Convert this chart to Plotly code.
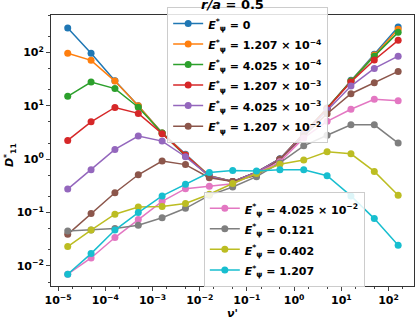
import plotly.graph_objects as go

nu = [1.6e-5, 5e-5, 1.6e-4, 5e-4, 1.6e-3, 5e-3, 1.6e-2, 5e-2, 0.16, 0.5, 1.6, 5, 16, 50, 160]

d_e0 = [286, 96, 29.4, 10, 3.1, 1.23, 0.49, 0.38, 0.57, 1.02, 3.0, 9.1, 30, 92, 300]
d_e1207m4 = [96, 71, 29, 10, 3.1, 1.2, 0.49, 0.38, 0.57, 1.0, 3.0, 9.0, 29, 89, 270]
d_e4025m4 = [15, 27.8, 21, 9.4, 3.1, 1.15, 0.48, 0.38, 0.57, 1.0, 3.0, 9.0, 29, 85, 237]
d_e1207m3 = [2.24, 5.0, 9.3, 7.2, 3.0, 1.18, 0.47, 0.38, 0.57, 1.0, 2.95, 8.9, 28, 72, 168]
d_e4025m3 = [0.275, 0.63, 1.52, 2.7, 2.18, 1.11, 0.48, 0.38, 0.57, 1.0, 2.9, 8.3, 23.4, 50, 85]
d_e1207m2 = [0.039, 0.096, 0.235, 0.51, 0.92, 0.79, 0.45, 0.38, 0.50, 1.0, 2.7, 7.1, 16.8, 27, 44]
d_e4025m2 = [0.007, 0.0141, 0.034, 0.074, 0.162, 0.28, 0.31, 0.345, 0.54, 0.89, 2.5, 5.1, 8.6, 13.2, 12.4]
d_e0121 = [0.045, 0.047, 0.050, 0.058, 0.080, 0.12, 0.21, 0.30, 0.47, 0.85, 1.78, 2.8, 4.4, 4.4, 2.0]
d_e0402 = [0.023, 0.047, 0.093, 0.127, 0.13, 0.148, 0.22, 0.35, 0.54, 0.80, 0.96, 1.38, 1.26, 0.59, 0.21]
d_e1207 = [0.007, 0.017, 0.047, 0.10, 0.205, 0.34, 0.56, 0.61, 0.60, 0.63, 0.63, 0.49, 0.205, 0.077, 0.0245]

x_tickvals = [1e-5, 1e-4, 1e-3, 1e-2, 1e-1, 1, 10, 100]
x_ticktext = ["10<sup>−5</sup>", "10<sup>−4</sup>", "10<sup>−3</sup>", "10<sup>−2</sup>",
              "10<sup>−1</sup>", "10<sup>0</sup>", "10<sup>1</sup>", "10<sup>2</sup>"]
y_tickvals = [1e-2, 1e-1, 1, 10, 100]
y_ticktext = ["10<sup>−2</sup>", "10<sup>−1</sup>", "10<sup>0</sup>", "10<sup>1</sup>", "10<sup>2</sup>"]

E = "<i>E</i><sup>*</sup><sub>ψ</sub>"
labels = [
    f"{E} = 0",
    f"{E} = 1.207 × 10<sup>−4</sup>",
    f"{E} = 4.025 × 10<sup>−4</sup>",
    f"{E} = 1.207 × 10<sup>−3</sup>",
    f"{E} = 4.025 × 10<sup>−3</sup>",
    f"{E} = 1.207 × 10<sup>−2</sup>",
    f"{E} = 4.025 × 10<sup>−2</sup>",
    f"{E} = 0.121",
    f"{E} = 0.402",
    f"{E} = 1.207",
]
series = [d_e0, d_e1207m4, d_e4025m4, d_e1207m3, d_e4025m3, d_e1207m2,
          d_e4025m2, d_e0121, d_e0402, d_e1207]
colors = ["#1f77b4", "#ff7f0e", "#2ca02c", "#d62728", "#9467bd", "#8c564b",
          "#e377c2", "#7f7f7f", "#bcbd22", "#17becf"]

fig = go.Figure()
for i, (lab, ys, c) in enumerate(zip(labels, series, colors)):
    fig.add_trace(go.Scatter(
        x=nu, y=ys, mode="lines+markers",
        name=f'<span style="font-size:11px">{lab}</span>',
        line=dict(color=c, width=1.5),
        marker=dict(color=c, size=7),
        legend="legend" if i < 6 else "legend2",
    ))

font = dict(family="DejaVu Sans", size=11, color="black", weight="bold")
legstyle = dict(bgcolor="rgba(255,255,255,0.85)", bordercolor="#cccccc", borderwidth=1,
                font=dict(family="DejaVu Sans", size=13.5, color="black", weight="bold"),
                xanchor="left", yanchor="top", itemwidth=30, tracegroupgap=0)

axstyle = dict(type="log", showgrid=False, zeroline=False, showline=True, mirror=True,
               linecolor="#333", linewidth=1, ticks="outside", ticklen=4,
               tickmode="array", automargin=False,
               tickfont=dict(family="DejaVu Sans", size=11, weight="bold"),
               minor=dict(ticks="outside", ticklen=2, showgrid=False))

fig.update_layout(
    width=415, height=319,
    margin=dict(l=51, r=1, t=15, b=33),
    paper_bgcolor="white", plot_bgcolor="white",
    font=font,
    showlegend=True,
    legend=dict(x=0.32, y=1.029, **legstyle),
    legend2=dict(x=0.421, y=0.347, **legstyle),
    xaxis=dict(range=[-5.15, 2.54], tickvals=x_tickvals, ticktext=x_ticktext, **axstyle),
    yaxis=dict(range=[-2.376, 2.70], tickvals=y_tickvals, ticktext=y_ticktext, **axstyle),
    annotations=[
        dict(text="<i>r/a</i> = 0.5", xref="paper", yref="paper", x=0.499, y=1.037,
             xanchor="center", yanchor="middle", showarrow=False,
             font=dict(family="DejaVu Sans", size=13, weight="bold")),
        dict(text="<i>ν'</i>", xref="paper", yref="paper", x=0.499, y=-0.10,
             xanchor="center", yanchor="middle", showarrow=False,
             font=dict(family="DejaVu Sans", size=11, weight="bold")),
        dict(text="<i>D</i><sup>*</sup><sub>11</sub>", xref="paper", yref="paper",
             x=-0.113, y=0.483, xanchor="center", yanchor="middle", textangle=-90,
             showarrow=False, font=dict(family="DejaVu Sans", size=11, weight="bold")),
    ],
)

fig.write_html("out.html", config={"displayModeBar": False},
               post_script="document.body.style.margin='0px';")
